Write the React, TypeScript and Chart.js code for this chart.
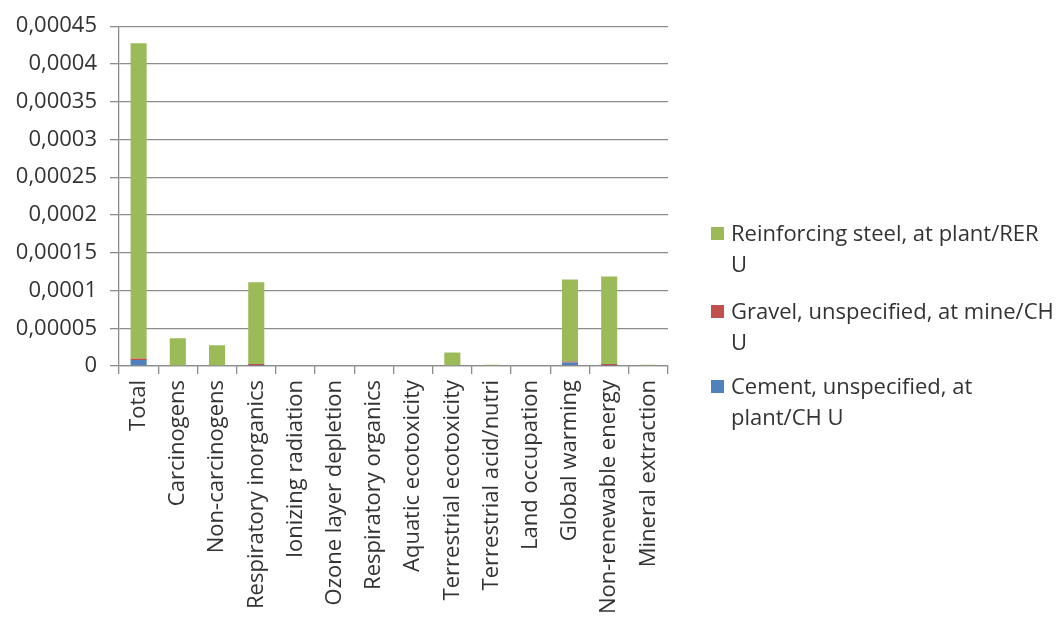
import React, { useEffect, useRef } from 'react';
import { Chart, registerables } from 'chart.js';

Chart.register(...registerables);

// Impact categories on the x axis
const categories = [
  'Total',
  'Carcinogens',
  'Non-carcinogens',
  'Respiratory inorganics',
  'Ionizing radiation',
  'Ozone layer depletion',
  'Respiratory organics',
  'Aquatic ecotoxicity',
  'Terrestrial ecotoxicity',
  'Terrestrial acid/nutri',
  'Land occupation',
  'Global warming',
  'Non-renewable energy',
  'Mineral extraction',
];

// Stacked contributions (bottom to top)
const cementValues = [
  0.0000078, 0, 0, 0.0000003, 0, 0, 0, 0, 0, 0, 0, 0.0000045, 0.0000004, 0,
];
const gravelValues = [
  0.0000022, 0, 0, 0.0000022, 0, 0, 0, 0, 0, 0, 0, 0.0000013, 0.0000022, 0,
];
const steelValues = [
  0.0004175, 0.0000367, 0.0000276, 0.0001085, 0, 0, 0, 0, 0.0000178,
  0.0000017, 0, 0.0001087, 0.0001159, 0.0000015,
];

const seriesNames = [
  'Cement, unspecified, at plant/CH U',
  'Gravel, unspecified, at mine/CH U',
  'Reinforcing steel, at plant/RER U',
];

// Legend text, broken into the lines it is shown on (top to bottom)
const legendLines = [
  ['Reinforcing steel, at plant/RER', 'U'],
  ['Gravel, unspecified, at mine/CH', 'U'],
  ['Cement, unspecified, at', 'plant/CH U'],
];

const yTickLabels = [
  '0',
  '0,00005',
  '0,0001',
  '0,00015',
  '0,0002',
  '0,00025',
  '0,0003',
  '0,00035',
  '0,0004',
  '0,00045',
];

const GREEN = '#9BBB59';
const RED = '#C0504D';
const BLUE = '#4F81BD';
const GRID = '#8C8C8C';
const TEXT = '#333333';
const FONT_FAMILY = "'Open Sans', sans-serif";

const legendColors = [GREEN, RED, BLUE];
const legendTops = [217, 295, 370];

export default function App() {
  const canvasRef = useRef<HTMLCanvasElement>(null);

  useEffect(() => {
    document.body.style.margin = '0';
    const canvas = canvasRef.current;
    if (!canvas) return;
    const font = { family: FONT_FAMILY, size: 22 };
    const chart = new Chart(canvas, {
      type: 'bar',
      data: {
        labels: categories,
        datasets: [
          { label: seriesNames[0], data: cementValues, backgroundColor: BLUE },
          { label: seriesNames[1], data: gravelValues, backgroundColor: RED },
          { label: seriesNames[2], data: steelValues, backgroundColor: GREEN },
        ],
      },
      options: {
        animation: false,
        responsive: false,
        maintainAspectRatio: false,
        datasets: {
          bar: { categoryPercentage: 1, barPercentage: 0.41, borderWidth: 0 },
        },
        layout: { padding: { top: 23, right: 394, bottom: 0, left: 0 } },
        plugins: {
          legend: { display: false },
          tooltip: { enabled: false },
        },
        scales: {
          x: {
            stacked: true,
            grid: {
              drawOnChartArea: false,
              offset: true,
              tickLength: 8,
              color: GRID,
              lineWidth: 1.3,
            },
            border: { color: GRID, width: 1.3 },
            ticks: {
              minRotation: 90,
              maxRotation: 90,
              autoSkip: false,
              padding: 6,
              font,
              color: TEXT,
            },
            afterFit: (scale: any) => {
              scale.height = 262;
            },
          },
          y: {
            stacked: true,
            min: 0,
            max: 0.00045,
            ticks: {
              stepSize: 0.00005,
              padding: 13,
              font,
              color: TEXT,
              callback: (_v: any, i: number) => yTickLabels[i],
            },
            grid: { color: GRID, tickLength: 9, lineWidth: 1.3 },
            border: { color: GRID, width: 1.3 },
            afterFit: (scale: any) => {
              scale.width = 119;
            },
          },
        },
      },
    });
    return () => chart.destroy();
  }, []);

  return (
    <div style={{ position: 'relative', width: 1062, height: 628, background: '#fff' }}>
      <canvas ref={canvasRef} width={1062} height={628} style={{ display: 'block' }} />
      {legendLines.map((lines, i) => (
        <div key={i}>
          <div
            style={{
              position: 'absolute',
              left: 711,
              top: legendTops[i] + 10,
              width: 13,
              height: 13,
              background: legendColors[i],
            }}
          />
          <div
            style={{
              position: 'absolute',
              left: 731,
              top: legendTops[i],
              fontFamily: FONT_FAMILY,
              fontSize: 22,
              lineHeight: '31px',
              color: TEXT,
              whiteSpace: 'nowrap',
            }}
          >
            {lines.map((t, j) => (
              <div key={j}>{t}</div>
            ))}
          </div>
        </div>
      ))}
    </div>
  );
}
